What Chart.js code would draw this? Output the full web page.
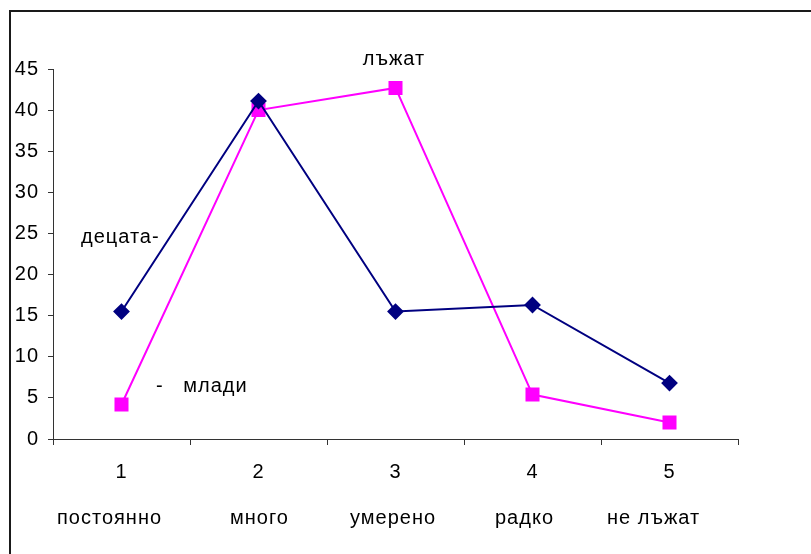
<!DOCTYPE html>
<html>
<head>
<meta charset="utf-8">
<script src="https://cdn.jsdelivr.net/npm/chart.js@4/dist/chart.umd.min.js"></script>
<style>
  html, body { margin: 0; padding: 0; background: #fff; }
  #wrap { width: 811px; height: 554px; }
</style>
</head>
<body>
<div id="wrap"><canvas id="myChart" width="811" height="554"></canvas></div>
<script>
'use strict';

const tickNumbers = ['1', '2', '3', '4', '5'];
const categories = ['постоянно', 'много', 'умерено', 'радко', 'не лъжат'];
const children = [15.5, 41.1, 15.5, 16.3, 6.8];
const youth = [4.2, 40.0, 42.7, 5.4, 2.0];
const yTicks = [0, 5, 10, 15, 20, 25, 30, 35, 40, 45];

const FONT = '"Liberation Sans", Arial, sans-serif';

// frame, the row of category names under the numbers, and loose text boxes
const decorations = {
    id: 'decorations',
    beforeDraw(chart) {
        const ctx = chart.ctx;
        ctx.fillStyle = '#fff';
        ctx.fillRect(0, 0, chart.width, chart.height);
        ctx.strokeStyle = '#1a1a1a';
        ctx.lineWidth = 2;
        ctx.strokeRect(10, 11, 900, 700);
        // slightly wider lettering for all text drawn on this canvas
        ctx.letterSpacing = '1px';
    },
    afterDraw(chart) {
        const ctx = chart.ctx;
        ctx.save();
        ctx.fillStyle = '#000';
        ctx.font = '20px ' + FONT;
        ctx.letterSpacing = '1px';
        ctx.textBaseline = 'middle';
        ctx.textAlign = 'left';
        const nameX = [57, 230, 350, 495, 607];
        categories.forEach((name, i) => ctx.fillText(name, nameX[i], 518));
        ctx.textAlign = 'center';
        ctx.fillText('лъжат', 394, 59);
        ctx.textAlign = 'left';
        ctx.fillText('децата-', 81, 237);
        ctx.fillText('-   млади', 156, 386);
        ctx.restore();
    }
};

const ctx = document.getElementById('myChart').getContext('2d');
const myChart = new Chart(ctx, {
    type: 'line',
    data: {
        labels: tickNumbers,
        datasets: [{
            label: 'деца',
            data: children,
            borderColor: '#000080',
            backgroundColor: '#000080',
            borderWidth: 2,
            pointStyle: 'rectRot',
            pointRadius: 7,
            pointHoverRadius: 7,
            tension: 0
        }, {
            label: 'млади',
            data: youth,
            borderColor: '#ff00ff',
            backgroundColor: '#ff00ff',
            borderWidth: 2,
            pointStyle: 'rect',
            pointRadius: 8.5,
            pointHoverRadius: 8.5,
            tension: 0
        }]
    },
    options: {
        responsive: false,
        animation: false,
        layout: {
            padding: { top: 69, right: 73, left: 0, bottom: 0 }
        },
        scales: {
            x: {
                offset: true,
                grid: {
                    offset: true,
                    drawOnChartArea: false,
                    tickLength: 6,
                    color: '#333'
                },
                border: { color: '#333', width: 1 },
                ticks: {
                    color: '#000',
                    font: { family: FONT, size: 20 },
                    padding: 15,
                    maxRotation: 0
                },
                afterFit(scale) { scale.height = 115; }
            },
            y: {
                min: 0,
                max: 45,
                afterBuildTicks(scale) {
                    scale.ticks = yTicks.map(v => ({ value: v }));
                },
                grid: {
                    drawOnChartArea: false,
                    tickLength: 5,
                    color: '#333'
                },
                border: { color: '#333', width: 1 },
                ticks: {
                    color: '#000',
                    font: { family: FONT, size: 20 },
                    padding: 9
                },
                afterFit(scale) { scale.width = 53; }
            }
        },
        plugins: {
            legend: { display: false },
            tooltip: { enabled: false }
        }
    },
    plugins: [decorations]
});
</script>
</body>
</html>
